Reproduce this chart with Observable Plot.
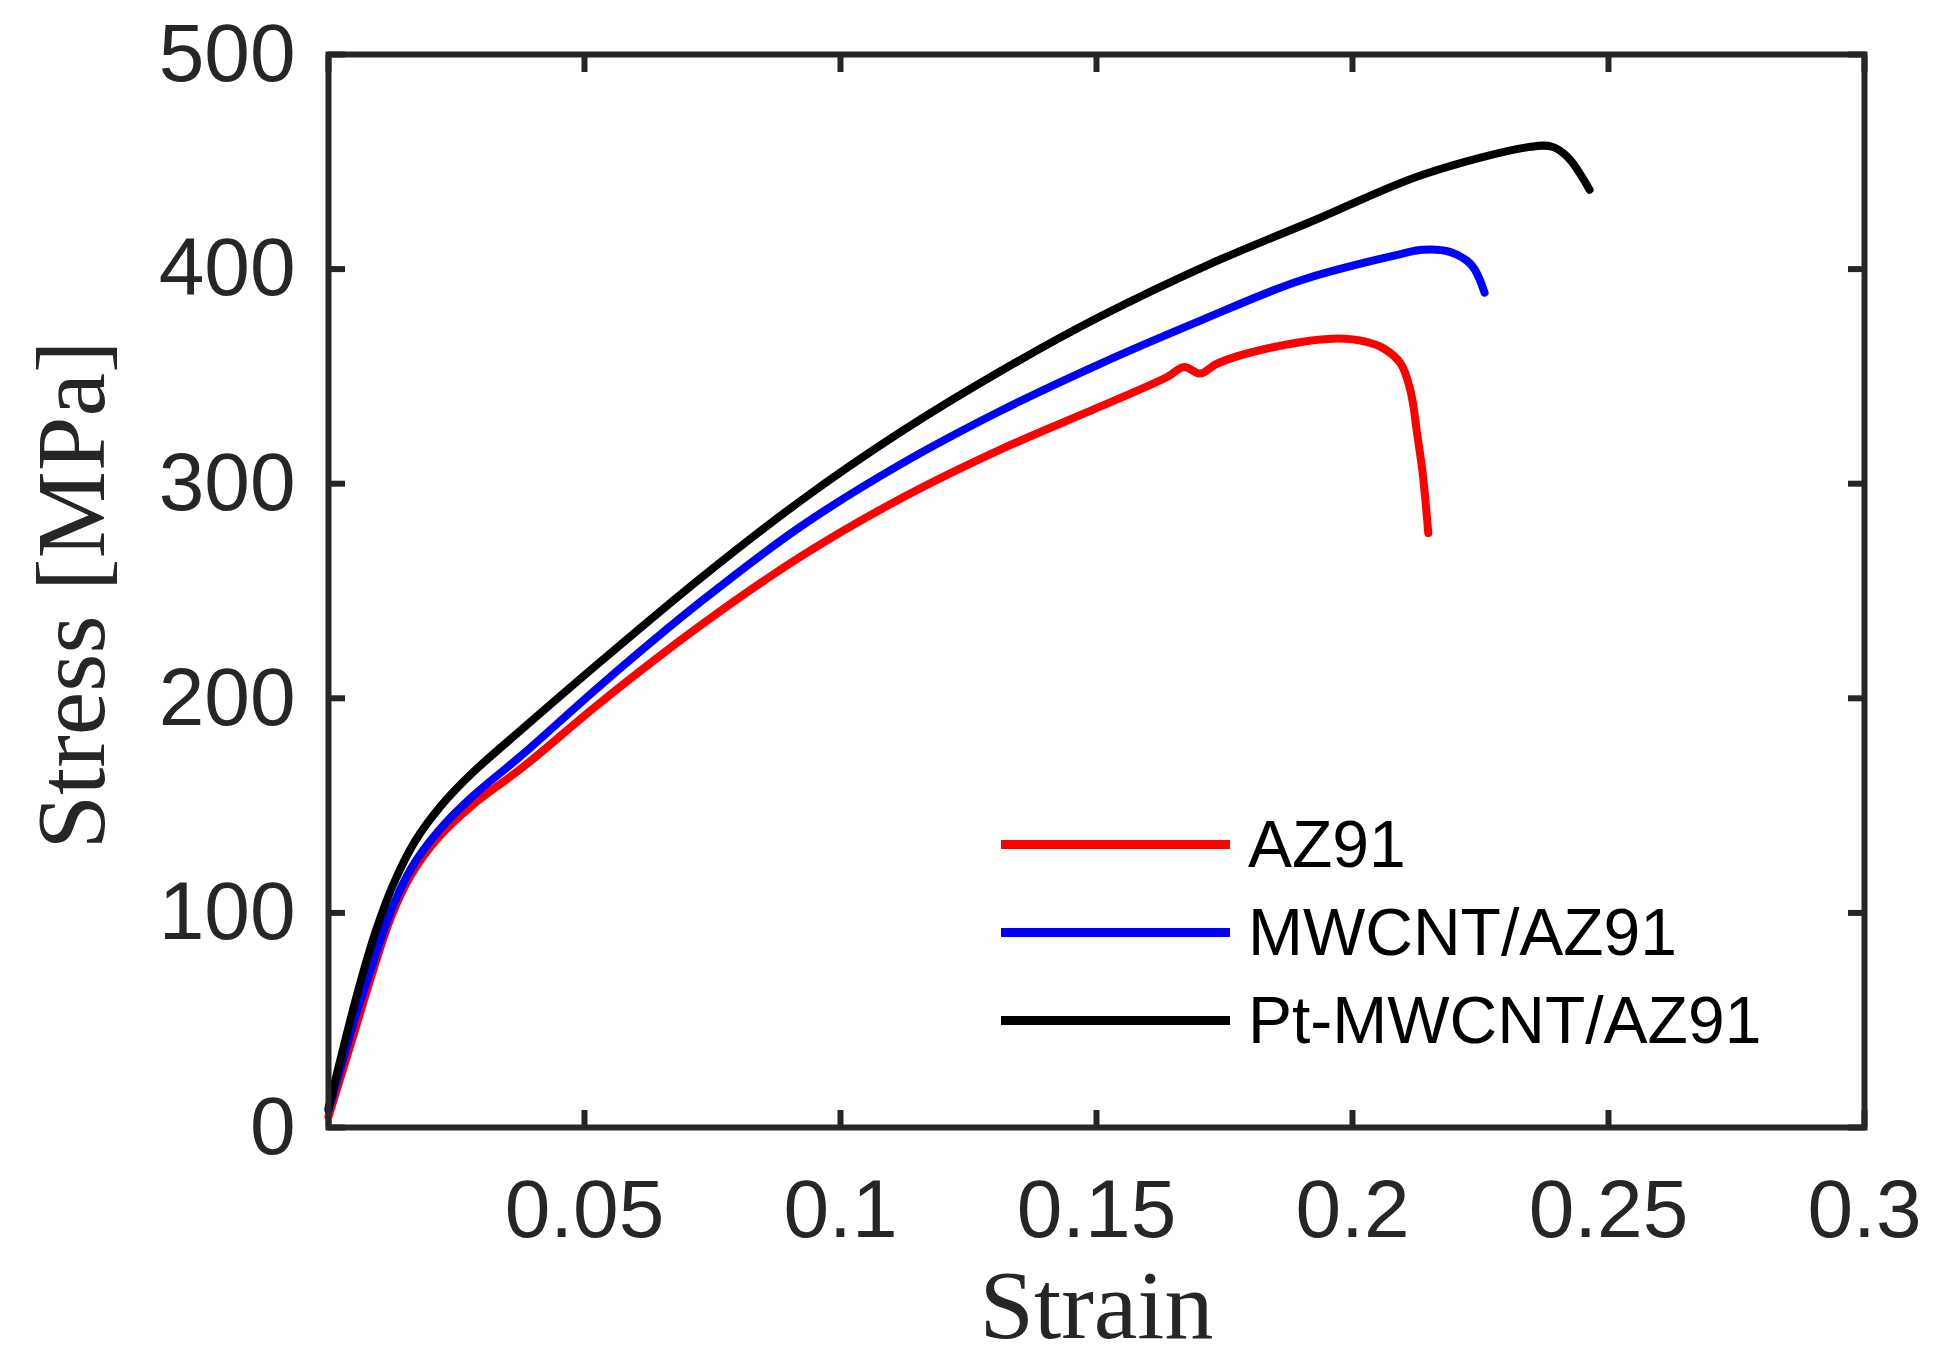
<!DOCTYPE html>
<html>
<head>
<meta charset="utf-8">
<script src="https://cdn.jsdelivr.net/npm/d3@7"></script>
<script src="https://cdn.jsdelivr.net/npm/@observablehq/plot@0.6"></script>
<style>
  body { margin: 0; background: white; }
  #chart { position: relative; width: 1942px; height: 1364px; }
  #legend {
    position: absolute;
    left: 1001px;
    top: 800px;
    font-family: "Liberation Sans", Arial, sans-serif;
    font-size: 66px;
    color: #000;
  }
  #legend .row { display: flex; align-items: center; height: 88px; }
  #legend .swatch { width: 229px; height: 9px; margin-right: 18px; }
</style>
</head>
<body>
<div id="chart"></div>
<script>
// values
const seriesNames = ["AZ91", "MWCNT/AZ91", "Pt-MWCNT/AZ91"];
const seriesColors = ["#ff0000", "#0000ff", "#000000"];

const strainAZ91 = [0, 0.005, 0.0083, 0.0122, 0.0162, 0.0214, 0.028, 0.038, 0.0531, 0.0727, 0.0922, 0.1117, 0.1313, 0.1508, 0.1638, 0.1671, 0.1703, 0.1736, 0.1833, 0.1964, 0.2029, 0.2061, 0.2094, 0.2113, 0.2127, 0.2137, 0.2148];
const stressAZ91 = [5, 44, 70, 98, 118, 135, 150, 168, 198, 234, 266, 293, 316, 336, 349.7, 354.4, 351.3, 356, 363, 367.6, 366, 363, 356, 343.5, 322, 305, 277];

const strainMWCNT = [0, 0.0057, 0.0083, 0.0122, 0.0162, 0.0214, 0.028, 0.038, 0.0531, 0.0727, 0.0922, 0.1117, 0.1313, 0.1508, 0.1703, 0.1898, 0.2094, 0.2137, 0.219, 0.2232, 0.2258];
const stressMWCNT = [8, 55, 74, 101, 121, 138, 154, 174, 206, 245, 280, 309, 334, 356, 376, 394.7, 407, 409, 408, 402, 389];

const strainPt = [0, 0.0057, 0.0093, 0.0126, 0.0168, 0.022, 0.028, 0.038, 0.0531, 0.0727, 0.0922, 0.1117, 0.1313, 0.1508, 0.1718, 0.1928, 0.2137, 0.2348, 0.239, 0.2421, 0.2463];
const stressPt = [9, 63, 92, 113, 133, 150, 165, 186, 217, 256, 292, 324, 352.5, 378, 402, 423, 444, 457, 457, 452, 437];

const xTicks = [0.05, 0.1, 0.15, 0.2, 0.25, 0.3];
const xTicksAll = [0, 0.05, 0.1, 0.15, 0.2, 0.25, 0.3];
const yTicks = [0, 100, 200, 300, 400, 500];

function rows(strain, stress) {
  return strain.map((s, i) => ({ strain: s, stress: stress[i] }));
}

const series = [
  rows(strainAZ91, stressAZ91),
  rows(strainMWCNT, stressMWCNT),
  rows(strainPt, stressPt),
];

const axisColor = "#262626";
const tickFont = "'Liberation Sans', Arial, sans-serif";
const labelFont = "'Liberation Serif', 'Times New Roman', serif";

const plot = Plot.plot({
  width: 1942,
  height: 1364,
  marginLeft: 328,
  marginRight: 78,
  marginTop: 54,
  marginBottom: 237,
  style: { background: "white", fontFamily: tickFont, color: axisColor },
  x: { domain: [0, 0.3], label: null },
  y: { domain: [0, 500], label: null },
  marks: [
    // tick labels
    Plot.axisX(xTicks, {
      anchor: "bottom",
      tickSize: 0,
      tickPadding: 51,
      fontSize: 82,
      fill: axisColor,
      tickFormat: (d) => String(d),
      label: null,
    }),
    Plot.axisY(yTicks, {
      anchor: "left",
      tickSize: 0,
      tickPadding: 33,
      fontSize: 82,
      fill: axisColor,
      tickFormat: (d) => String(d),
      label: null,
    }),
    // inward ticks on all four sides
    Plot.axisX(xTicksAll, { anchor: "bottom", tickSize: -17, strokeWidth: 6, stroke: axisColor, tickFormat: () => "", label: null }),
    Plot.axisX(xTicksAll, { anchor: "top", tickSize: -17, strokeWidth: 6, stroke: axisColor, tickFormat: () => "", label: null }),
    Plot.axisY(yTicks, { anchor: "left", tickSize: -17, strokeWidth: 6, stroke: axisColor, tickFormat: () => "", label: null }),
    Plot.axisY(yTicks, { anchor: "right", tickSize: -17, strokeWidth: 6, stroke: axisColor, tickFormat: () => "", label: null }),

    ...series.map((data, i) =>
      Plot.line(data, {
        x: "strain",
        y: "stress",
        stroke: seriesColors[i],
        strokeWidth: 8,
        curve: "catmull-rom",
      }),
    ),

    Plot.frame({ stroke: axisColor, strokeWidth: 6 }),

    // axis titles
    Plot.text(["Strain"], {
      text: (d) => d,
      frameAnchor: "bottom",
      dy: 210,
      lineAnchor: "bottom",
      fontSize: 98,
      fontFamily: labelFont,
      fill: axisColor,
    }),
    Plot.text(["Stress [MPa]"], {
      text: (d) => d,
      frameAnchor: "left",
      textAnchor: "middle",
      rotate: -90,
      dx: -225,
      dy: 4,
      lineAnchor: "bottom",
      fontSize: 98,
      fontFamily: labelFont,
      fill: axisColor,
    }),
  ],
});

const chart = document.getElementById("chart");
chart.appendChild(plot);

// legend overlaid inside the plot area
const legend = document.createElement("div");
legend.id = "legend";
seriesNames.forEach((name, i) => {
  const row = document.createElement("div");
  row.className = "row";
  const swatch = document.createElement("span");
  swatch.className = "swatch";
  swatch.style.background = seriesColors[i];
  const label = document.createElement("span");
  label.textContent = name;
  row.appendChild(swatch);
  row.appendChild(label);
  legend.appendChild(row);
});
chart.appendChild(legend);
</script>
</body>
</html>
